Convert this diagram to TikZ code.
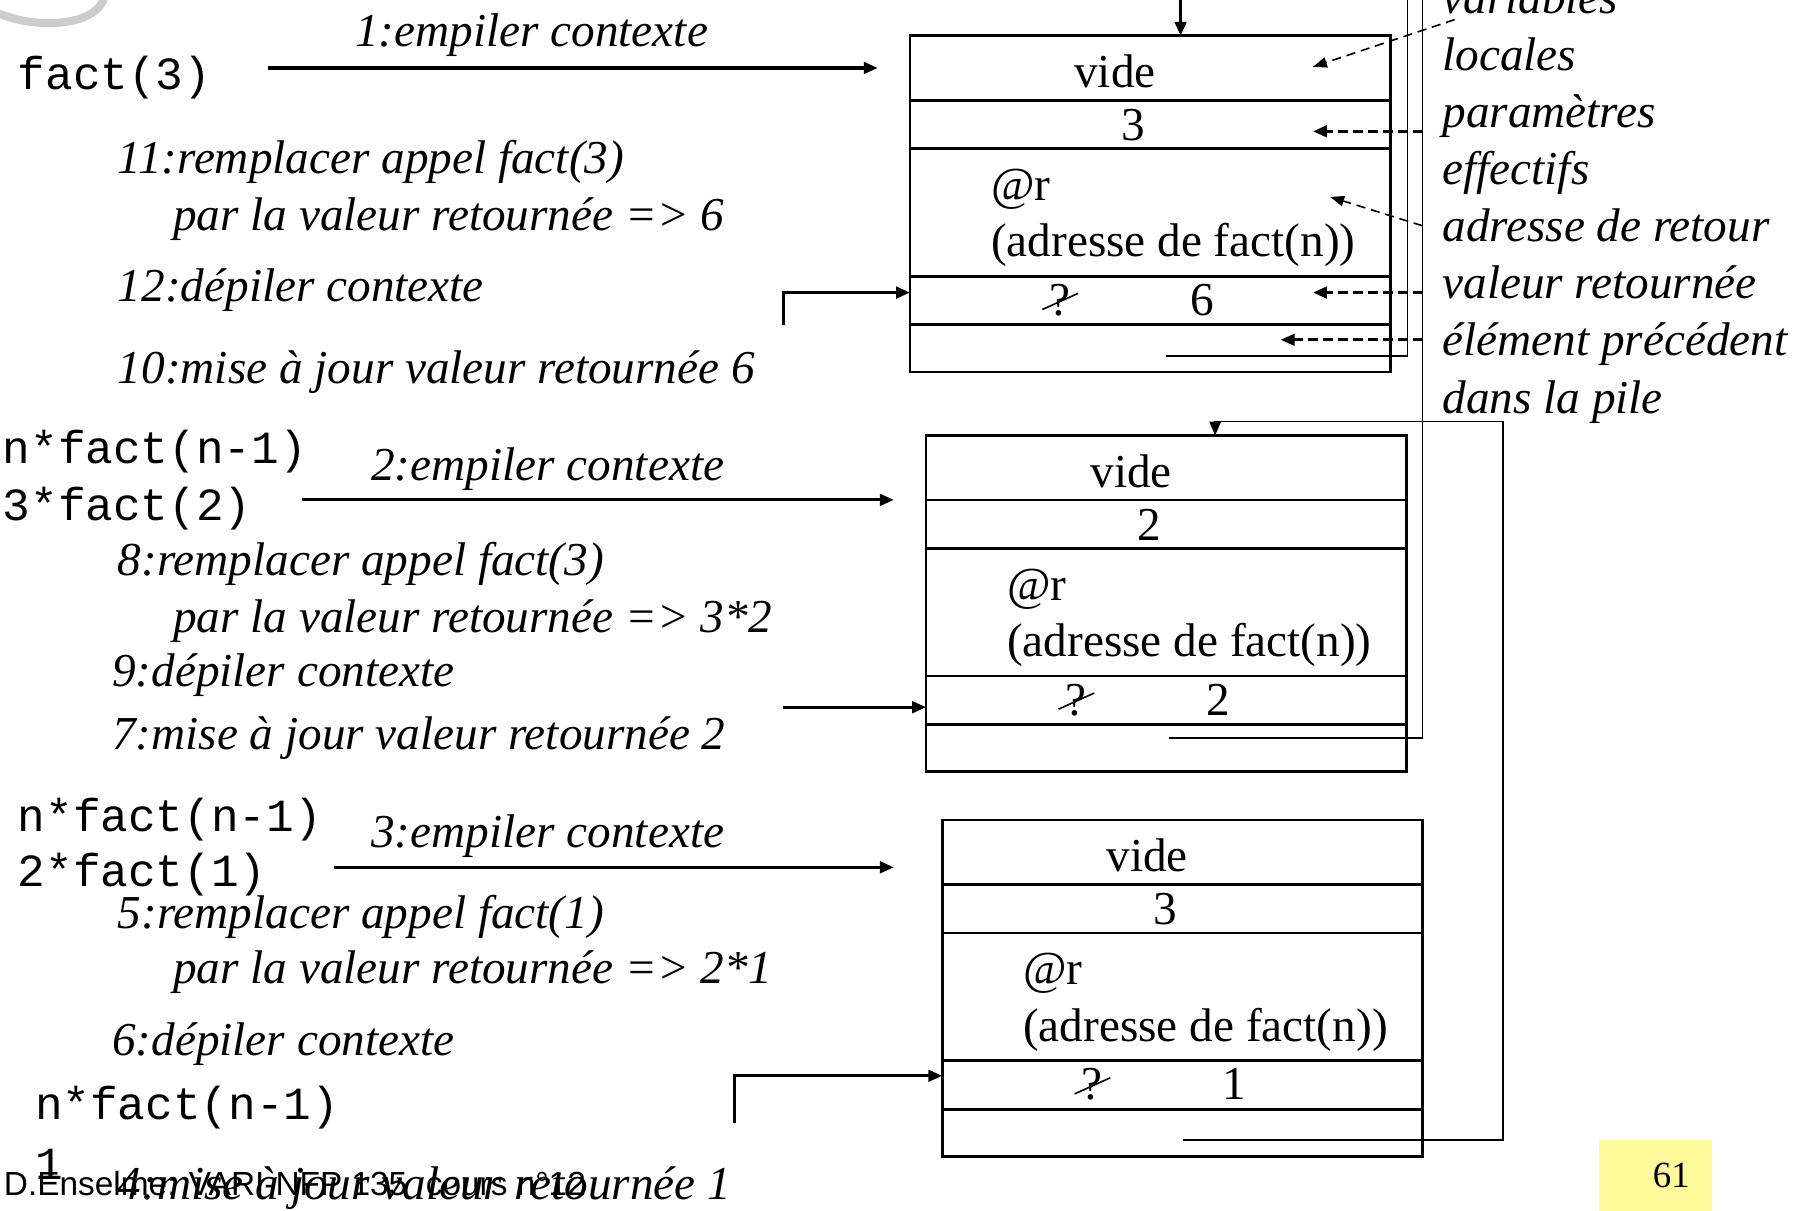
\documentclass[tikz,border=0pt]{standalone}
\usepackage{fontspec}
\setmainfont{Liberation Serif}
\setmonofont{Liberation Mono}
\setsansfont{Liberation Sans}
\usetikzlibrary{arrows.meta,calc}

\tikzset{
  txt/.style={inner sep=0pt, anchor=base west, font=\fontsize{20.5}{24}\selectfont},
  itxt/.style={inner sep=0pt, anchor=base west, font=\fontsize{20.5}{24}\selectfont\itshape},
  code/.style={inner sep=0pt, anchor=base west, font=\fontsize{20}{24}\selectfont\ttfamily},
  ctxt/.style={inner sep=0pt, anchor=base, font=\fontsize{20.5}{24}\selectfont},
  boxline/.style={line width=1.2pt},
  thinline/.style={line width=0.7pt},
  arr/.style={line width=1.35pt, -{Triangle[length=6pt,width=5pt]}},
  ptr/.style={line width=0.8pt},
  ptrarr/.style={line width=0.8pt, -{Triangle[length=6pt,width=5pt]}},
  dsh/.style={line width=0.7pt, dash pattern=on 4pt off 2.5pt, -{Triangle[length=6pt,width=4.5pt]}},
  dshb/.style={line width=1.3pt, dash pattern=on 4pt off 2.5pt, -{Triangle[length=6pt,width=5pt]}},
}

\newcommand\stackframe[5]{%
  \begin{scope}[shift={(#2,#3)}]
    \coordinate (#1-nw) at (790,31);
    \coordinate (#1-se) at (1207,323);
    \draw[boxline] (#1-nw) rectangle (#1-se);
    \foreach \yy in {87,129,240,282}{\draw[boxline] (790,\yy) -- (1207,\yy);}
    \node[ctxt] (#1-vide) at (968,76) {vide};
    \node[ctxt] (#1-par) at (984,122) {#4};
    \node[txt] (#1-at) at (860,174) {@r};
    \node[txt] (#1-adr) at (860,223) {(adresse de fact(n))};
    \node[ctxt] (#1-q) at (920,274) {?};
    \node[ctxt] (#1-val) at (1044,274) {#5};
    \draw[thinline] ($(#1-q.center)+(-15,8)$) -- ($(#1-q.center)+(16,-6)$);
  \end{scope}}

\begin{document}
\begin{tikzpicture}[x=0.5pt,y=-0.5pt]
\useasboundingbox (0,0) rectangle (1568,1051);

% logo fragment
\draw[gray!40, line width=3.5pt, line cap=round] (0,12) .. controls (30,25) and (85,24) .. (91,-4);

% stack frames
\stackframe{f1}{0}{0}{3}{6}
\stackframe{f2}{14}{347}{2}{2}
\stackframe{f3}{28}{681}{3}{1}
\coordinate (f1-in) at (790,254);
\coordinate (f2-in) at (804,614);
\coordinate (f3-in) at (818,934);

% ---- left column texts
\node[itxt] (t1) at (308,40) {1:empiler contexte};
\node[code] (c1) at (15,78) {fact(3)};
\node[itxt] (t11) at (102,151) {11:remplacer appel fact(3)};
\node[itxt] (t11b) at (150,200) {par la valeur retournée => 6};
\node[itxt] (t12) at (102,262) {12:dépiler contexte};
\node[itxt] (t10) at (102,333) {10:mise à jour valeur retournée 6};

\node[code] (c2a) at (2,402) {n*fact(n-1)};
\node[itxt] (t2) at (322,417) {2:empiler contexte};
\node[code] (c2b) at (2,452) {3*fact(2)};
\node[itxt] (t8) at (102,500) {8:remplacer appel fact(3)};
\node[itxt] (t8b) at (150,549) {par la valeur retournée => 3*2};
\node[itxt] (t9) at (97,596) {9:dépiler contexte};
\node[itxt] (t7) at (97,651) {7:mise à jour valeur retournée 2};

\node[code] (c3a) at (15,722) {n*fact(n-1)};
\node[itxt] (t3) at (322,736) {3:empiler contexte};
\node[code] (c3b) at (15,770) {2*fact(1)};
\node[itxt] (t5) at (102,806) {5:remplacer appel fact(1)};
\node[itxt] (t5b) at (150,854) {par la valeur retournée => 2*1};
\node[itxt] (t6) at (97,916) {6:dépiler contexte};
\node[code] (c4a) at (30,972) {n*fact(n-1)};
\node[code] (c4b) at (30,1024) {1};

% footer and overlapping text
\node[inner sep=0pt, anchor=base west, font=\fontsize{14.5}{17}\selectfont\sffamily] (foot) at (3,1038) {D.Enselme: VARI-NFP 135\ \ cours n°12};
\node[itxt] (t4) at (102,1041) {4:mise à jour valeur retournée 1};

% page number
\fill[yellow!40!white] (1388,990) rectangle (1486,1060);
\node[inner sep=0pt, anchor=base, font=\fontsize{16}{19}\selectfont] (pg) at (1451,1031) {61};

% ---- right labels
\node[itxt] (l-var) at (1252,12) {variables};
\node[itxt] (l-loc) at (1252,61) {locales};
\node[itxt] (l-par) at (1252,111) {paramètres};
\node[itxt] (l-eff) at (1252,160) {effectifs};
\node[itxt] (l-adr) at (1252,210) {adresse de retour};
\node[itxt] (l-val) at (1252,259) {valeur retournée};
\node[itxt] (l-elt) at (1252,309) {élément précédent};
\node[itxt] (l-pile) at (1252,359) {dans la pile};

% ---- call arrows
\coordinate (a1s) at (233,59);  \coordinate (a1e) at (762,59);
\coordinate (a2s) at (262,434); \coordinate (a2e) at (776,434);
\coordinate (a3s) at (290,753); \coordinate (a3e) at (776,753);
\draw[arr] (a1s) -- (a1e);
\draw[arr] (a2s) -- (a2e);
\draw[arr] (a3s) -- (a3e);

% ---- return arrows
\coordinate (r1s) at (680,282);
\coordinate (r2s) at (680,614);
\coordinate (r3s) at (638,975);
\draw[arr] (r1s) |- (f1-in);
\draw[arr] (r2s) -- (f2-in);
\draw[arr] (r3s) |- (f3-in);

% ---- previous-element pointers
\coordinate (p1s) at (1012,309);  \coordinate (p1c) at (1222,309); \coordinate (p1e) at (1222,-5);
\coordinate (p2s) at (1015,641);  \coordinate (p2c) at (1235,641); \coordinate (p2e) at (1235,-5);
\coordinate (p3s) at (1027,990);  \coordinate (p3c) at (1305,990); \coordinate (p3d) at (1305,366);
\coordinate (p3t) at (1055,366);  \coordinate (f2-top) at (1055,378);
\coordinate (p0s) at (1025,-5);   \coordinate (f1-top) at (1025,31);
\draw[ptr] (p1s) -- (p1c) -- (p1e);
\draw[ptr] (p2s) -- (p2c) -- (p2e);
\draw[ptrarr] (p3s) -- (p3c) -- (p3d) -- (p3t) -- (f2-top);
\draw[arr] (p0s) -- (f1-top);

% ---- dashed explanation arrows
\coordinate (d-var) at (1263,17);   \coordinate (k-var) at (1140,58);
\coordinate (d-par) at (1235,114);  \coordinate (k-par) at (1140,114);
\coordinate (d-adr) at (1235,196);  \coordinate (k-adr) at (1155,171);
\coordinate (d-val) at (1235,254);  \coordinate (k-val) at (1140,254);
\coordinate (d-elt) at (1235,295);  \coordinate (k-elt) at (1112,295);
\draw[dsh] (d-var) -- (k-var);
\draw[dshb] (d-par) -- (k-par);
\draw[dsh] (d-adr) -- (k-adr);
\draw[dshb] (d-val) -- (k-val);
\draw[dshb] (d-elt) -- (k-elt);
\end{tikzpicture}
\end{document}
